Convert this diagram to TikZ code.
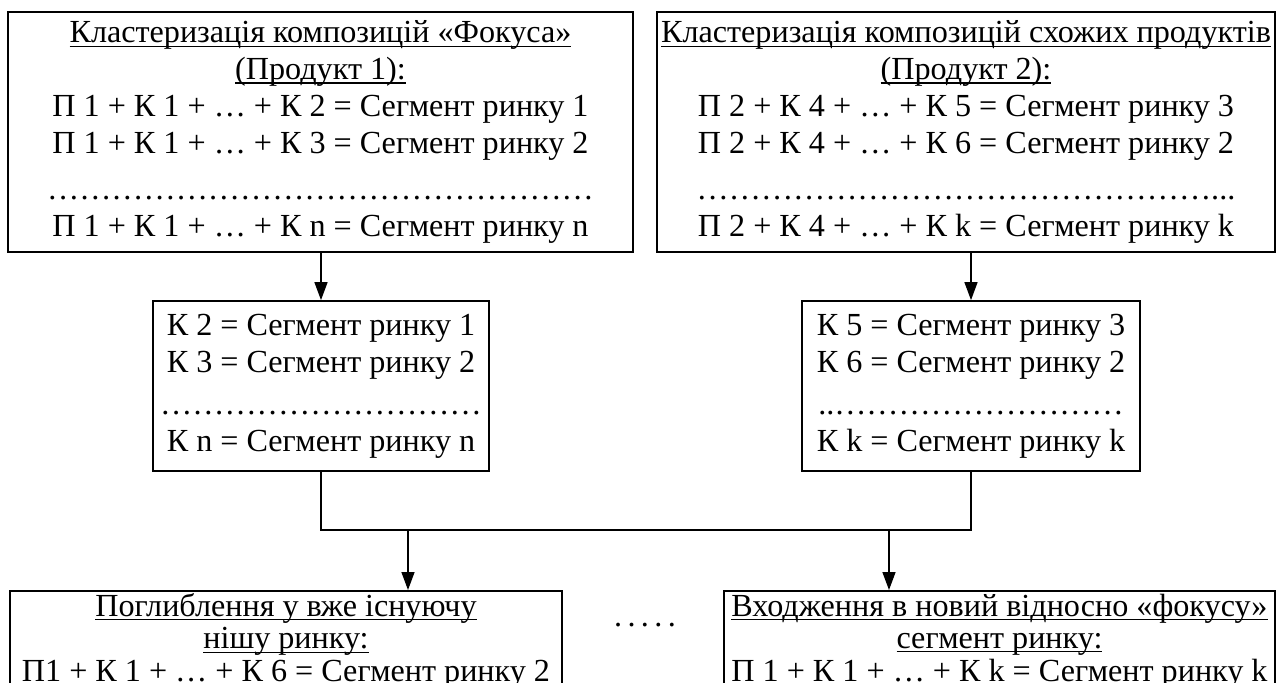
\documentclass[tikz,border=0pt]{standalone}
\usepackage{fontspec}
\setmainfont{Liberation Serif}
\usetikzlibrary{arrows.meta}

\newcommand{\undl}[1]{\setbox0\hbox{#1}\rlap{\rule[-2.2pt]{\wd0}{0.7pt}}\box0}

\tikzset{
    box/.style={draw, line width=1pt, align=center, inner sep=0pt,
        font=\fontsize{18.3}{21}\selectfont},
    lowbox/.style={box, font=\fontsize{18.3}{18.5}\selectfont},
    arr/.style={line width=0.8pt, -{Triangle[length=0.36cm, width=0.26cm]}},
    wire/.style={line width=0.8pt}
}

\begin{document}
\begin{tikzpicture}
        \useasboundingbox (0,0) rectangle (25.52,-13.64);

        %%top boxes
        \node[box, minimum width=12.5cm, minimum height=4.8cm] (f1) at (6.41,-2.64)
            {\undl{Кластеризація композицій «Фокуса»}\\
             \undl{(Продукт 1):}\\
             П 1 + К 1 + … + К 2 = Сегмент ринку 1\\
             П 1 + К 1 + … + К 3 = Сегмент ринку 2\\[5pt]
             ……………………………………………\\
             П 1 + К 1 + … + К n = Сегмент ринку n};

        \node[box, minimum width=12.36cm, minimum height=4.8cm] (f2) at (19.32,-2.64)
            {\undl{Кластеризація композицій схожих продуктів}\\
             \undl{(Продукт 2):}\\
             П 2 + К 4 + … + К 5 = Сегмент ринку 3\\
             П 2 + К 4 + … + К 6 = Сегмент ринку 2\\[5pt]
             …………………………………………...\\
             П 2 + К 4 + … + К k = Сегмент ринку k};

        %%middle boxes
        \node[box, minimum width=6.72cm, minimum height=3.4cm] (k1) at (6.42,-7.72)
            {К 2 = Сегмент ринку 1\\
             К 3 = Сегмент ринку 2\\[3pt]
             …………………………\\
             К n = Сегмент ринку n};

        \node[box, minimum width=6.76cm, minimum height=3.4cm] (k2) at (19.42,-7.72)
            {К 5 = Сегмент ринку 3\\
             К 6 = Сегмент ринку 2\\[3pt]
             ..………………………\\
             К k = Сегмент ринку k};

        %%bottom boxes
        \node[lowbox, anchor=north, minimum width=11.04cm, minimum height=2.0cm] (p1) at (5.72,-11.8)
            {\undl{Поглиблення у вже існуючу}\\
             \undl{нішу ринку:}\\
             П1 + К 1 + … + К 6 = Сегмент ринку 2};

        \node[lowbox, anchor=north, minimum width=11.02cm, minimum height=2.0cm] (p2) at (19.99,-11.8)
            {\undl{Входження в новий відносно «фокусу»}\\
             \undl{сегмент ринку:}\\
             П 1 + К 1 + … + К k = Сегмент ринку k};

        \node[font=\fontsize{18.3}{21}\selectfont] (etc) at (12.9,-12.5) {.\,.\,.\,.\,.};

        %%connectors
        \draw[arr] (k1.north |- f1.south) -- (k1.north);
        \draw[arr] (k2.north |- f2.south) -- (k2.north);

        \coordinate (busl) at (8.16,-10.6);
        \coordinate (busr) at (17.78,-10.6);
        \draw[wire] (k1.south) |- (busl) -- (busr) -| (k2.south);

        \draw[arr] (busl) -- (busl |- p1.north);
        \draw[arr] (busr) -- (busr |- p2.north);

\end{tikzpicture}
\end{document}
